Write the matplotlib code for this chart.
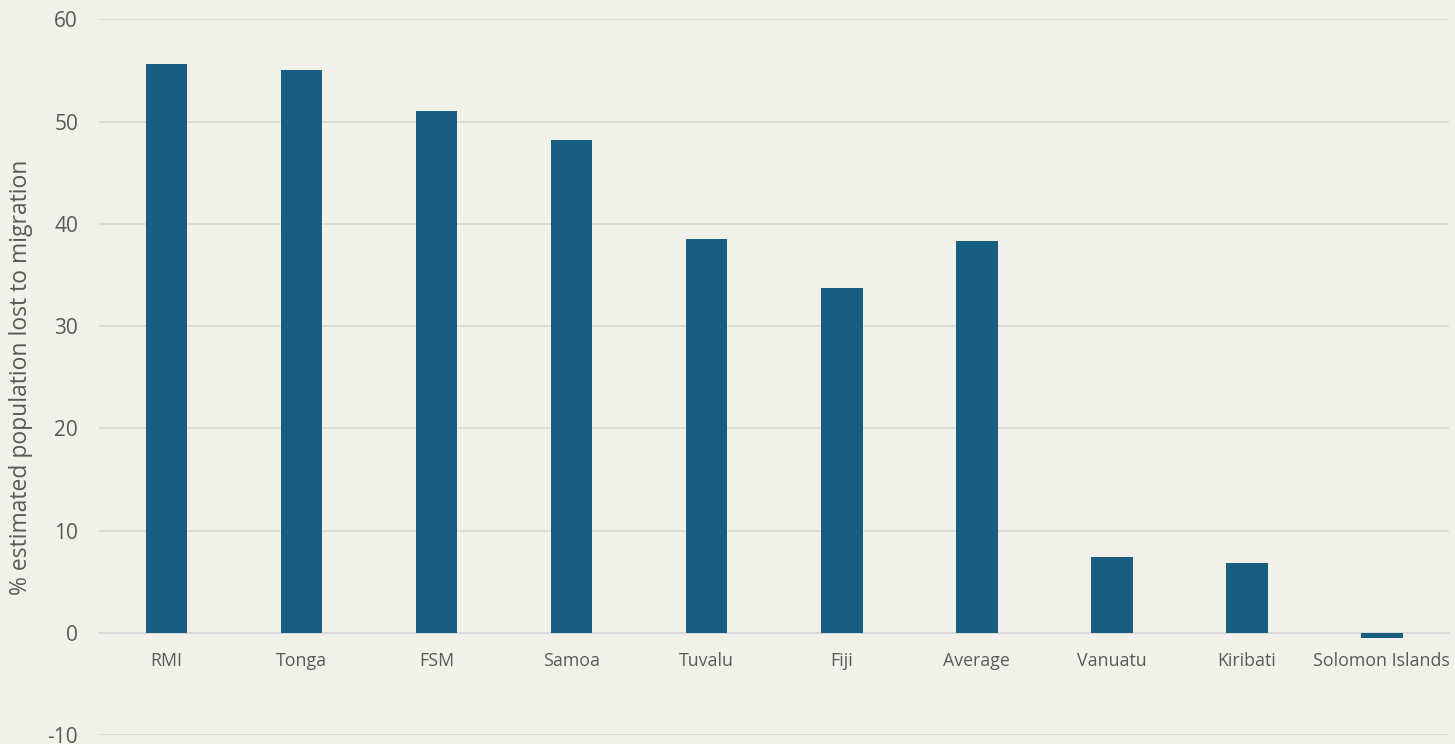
import matplotlib.pyplot as plt
import matplotlib

matplotlib.rcParams['font.family'] = ['Open Sans', 'DejaVu Sans']
matplotlib.rcParams['axes.unicode_minus'] = False

# % of estimated population lost to migration, by country
countries = ["RMI", "Tonga", "FSM", "Samoa", "Tuvalu", "Fiji", "Average",
             "Vanuatu", "Kiribati", "Solomon Islands"]
lost_pct = [55.6, 55.07, 51.0, 48.2, 38.5, 33.7, 38.3, 7.37, 6.83, -0.52]

yticks = [-10, 0, 10, 20, 30, 40, 50, 60]

BG = '#F2F1E9'
BAR = '#175E80'
GRID = '#D9D9D9'
TXT = '#595959'

fig = plt.figure(figsize=(14.55, 7.44), dpi=100, facecolor=BG)
ax = fig.add_axes([0.068, 0.012, 0.928, 0.962], facecolor=BG)

ax.bar(range(len(countries)), lost_pct, width=0.31, color=BAR, zorder=3)

ax.set_xlim(-0.5, len(countries) - 0.5)
ax.set_ylim(-10, 60)
ax.set_yticks(yticks)
ax.grid(axis='y', color=GRID, linewidth=1.3, zorder=0)
ax.set_axisbelow(True)

# category labels sit on the zero line
ax.spines['bottom'].set_position(('data', 0))
ax.spines['bottom'].set_color(GRID)
ax.spines['bottom'].set_linewidth(1.3)
ax.spines['bottom'].set_zorder(2)
for s in ['top', 'right', 'left']:
    ax.spines[s].set_visible(False)

ax.set_xticks(range(len(countries)))
ax.set_xticklabels(countries, fontsize=12.8, color=TXT)
ax.tick_params(axis='x', length=0, pad=14)
ax.tick_params(axis='y', length=0, pad=15, labelsize=15, labelcolor=TXT)

ax.set_ylabel("% estimated population lost to migration", fontsize=16.5, color=TXT)
ax.yaxis.set_label_coords(-0.049, 0.5)

plt.savefig("out.png", dpi=100, facecolor=BG)
